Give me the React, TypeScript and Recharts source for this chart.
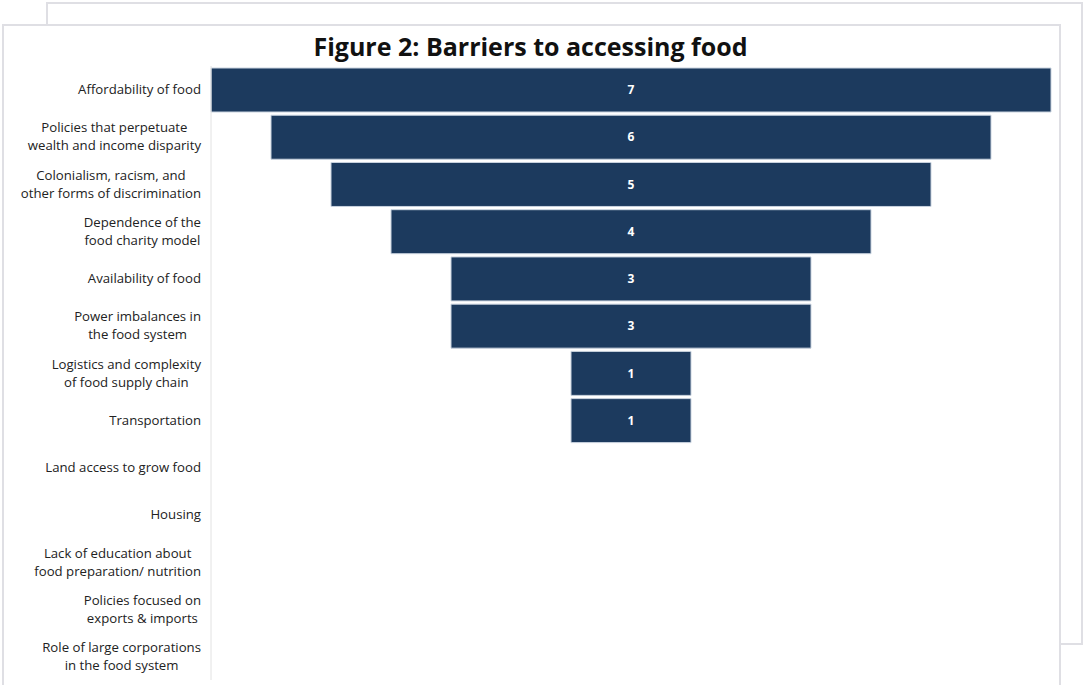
import { BarChart, Bar, XAxis, YAxis, LabelList } from 'recharts';

const barriers = [
  ['Affordability of food'],
  ['Policies that perpetuate', 'wealth and income disparity'],
  ['Colonialism, racism, and', 'other forms of discrimination'],
  ['Dependence of the', 'food charity model'],
  ['Availability of food'],
  ['Power imbalances in', 'the food system'],
  ['Logistics and complexity', 'of food supply chain'],
  ['Transportation'],
  ['Land access to grow food'],
  ['Housing'],
  ['Lack of education about', 'food preparation/ nutrition'],
  ['Policies focused on', 'exports & imports'],
  ['Role of large corporations', 'in the food system'],
];

const counts = [7, 6, 5, 4, 3, 3, 1, 1, 0, 0, 0, 0, 0];

const maxCount = 7;
const FONT = '"Open Sans", sans-serif';
const LABEL_SIZE = 13.2;
const LINE_GAP = 18;

// funnel: an invisible pad bar pushes each bar to the middle
const data = barriers.map((lines, i) => ({
  name: lines.join(' '),
  lines,
  pad: (maxCount - counts[i]) / 2,
  count: counts[i],
}));

let ctx: CanvasRenderingContext2D | null = null;
const textWidth = (s: string) => {
  if (!ctx) ctx = document.createElement('canvas').getContext('2d');
  if (!ctx) return s.length * 7;
  ctx.font = `${LABEL_SIZE}px ${FONT}`;
  return ctx.measureText(s).width;
};

// lines centred on each other, block right-aligned against the axis
const BarrierTick = ({ x, y, payload }: any) => {
  const row = data.find(d => d.name === payload.value);
  const lines = row ? row.lines : [payload.value];
  const w = Math.max(...lines.map(textWidth));
  const cx = x - 2 - w / 2;
  const top = y - ((lines.length - 1) * LINE_GAP) / 2;
  return (
    <g>
      {lines.map((l: string, i: number) => (
        <text key={i} x={cx} y={top + i * LINE_GAP} dy="0.35em" textAnchor="middle" fill="#222" fontSize={LABEL_SIZE} fontFamily={FONT}>
          {l}
        </text>
      ))}
    </g>
  );
};

export default function App() {
  return (
    <div style={{ position: 'fixed', left: 0, top: 0, width: 1083, height: 685, overflow: 'hidden', background: '#fff', fontFamily: FONT }}>
      <div style={{ position: 'absolute', boxSizing: 'border-box', left: 46, top: 2, width: 1037, height: 643, border: '2px solid #dfdfe4', background: '#fff' }} />
      <div style={{ position: 'absolute', boxSizing: 'border-box', left: 2, top: 24, width: 1059, height: 700, border: '2px solid #dfdfe4', background: '#fff' }} />
      <div style={{ position: 'absolute', left: 2, top: 31, width: 1057, textAlign: 'center', fontSize: 25, fontWeight: 700, color: '#111', lineHeight: '30px' }}>
        Figure 2: Barriers to accessing food
      </div>
      <div style={{ position: 'absolute', left: 0, top: 0 }}>
        <BarChart
          width={1083}
          height={685}
          data={data}
          layout="vertical"
          margin={{ top: 66, right: 32, bottom: 5, left: 0 }}
          barSize={44}
        >
          <XAxis type="number" domain={[0, maxCount]} hide />
          <YAxis
            type="category"
            dataKey="name"
            width={211}
            interval={0}
            tickLine={false}
            axisLine={{ stroke: '#e2e2e2' }}
            tick={<BarrierTick />}
          />
          <Bar dataKey="pad" stackId="f" fill="transparent" isAnimationActive={false} />
          <Bar dataKey="count" stackId="f" fill="#1c3a5e" stroke="#c9d3df" strokeWidth={1} isAnimationActive={false}>
            <LabelList
              dataKey="count"
              position="center"
              fill="#fff"
              fontSize={12}
              fontWeight={700}
              fontFamily={FONT}
              formatter={(v: any) => (v ? v : '')}
            />
          </Bar>
        </BarChart>
      </div>
    </div>
  );
}
